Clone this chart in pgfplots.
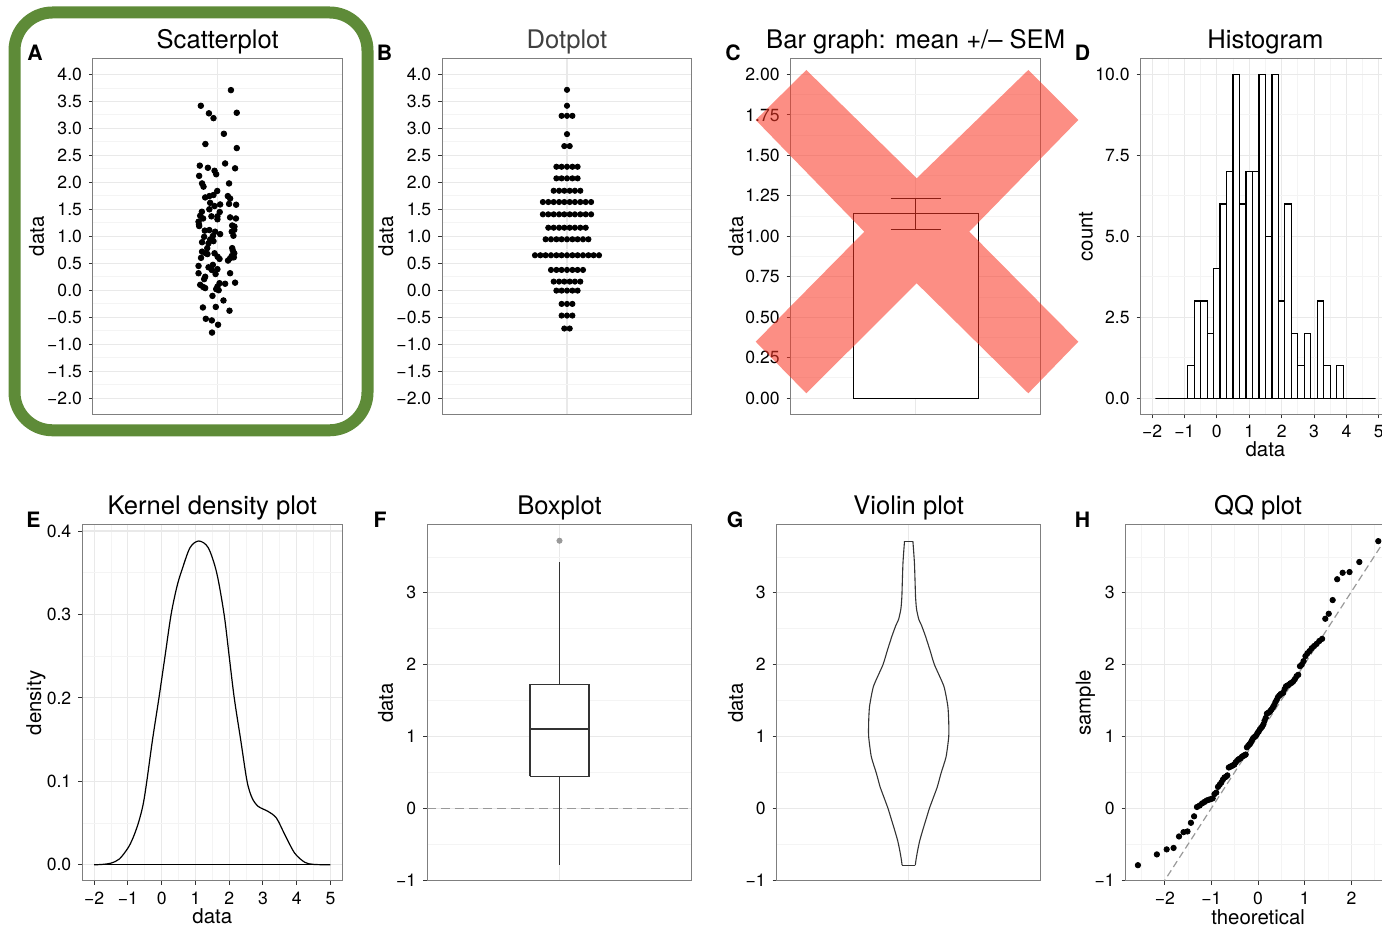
\documentclass[border=0pt]{standalone}
\usepackage{fontspec}
\setmainfont{TeX Gyre Heros}
\usepackage{pgfplots}
\pgfplotsset{compat=1.18}

\definecolor{gmaj}{RGB}{233,233,233}
\definecolor{gmin}{RGB}{244,244,244}
\definecolor{bordc}{RGB}{127,127,127}
\definecolor{tickc}{RGB}{51,51,51}
\definecolor{frameg}{RGB}{94,139,56}
\definecolor{xred}{RGB}{250,54,36}
\definecolor{dgray}{RGB}{153,153,153}
\definecolor{ttlgray}{RGB}{64,64,64}

\pgfplotsset{
  gg/.style={
    scale only axis,
    anchor=north west,
    axis line style={draw=bordc, line width=0.5pt},
    tick align=outside,
    tick pos=left,
    major tick length=2pt,
    minor tick length=0pt,
    tick style={tickc, line width=0.5pt},
    major grid style={gmaj, line width=0.55pt},
    minor grid style={gmin, line width=0.45pt},
    xmajorgrids, ymajorgrids, yminorgrids,
    tick label style={font=\fontsize{8.8}{10}\selectfont, black},
    label style={font=\fontsize{10.2}{12}\selectfont},
    title style={font=\fontsize{12.8}{14}\selectfont, at={(0.5,1)}, anchor=base, yshift=-1pt},
  },
  catx/.style={xmin=0.4, xmax=1.6, xtick={1}, xticklabel={\mbox{}}, xtick style={draw=none}},
}

\begin{document}
\begin{tikzpicture}
\path[use as bounding box] (0,0) rectangle (691pt,465.5pt);

% green frame around panel A
\draw[frameg, line width=6pt, rounded corners=19pt] (7.25pt,459.25pt) rectangle (183.75pt,250.35pt);

% ---------------- A: Scatterplot
\begin{axis}[gg, catx, at={(46.5pt,436.35pt)}, width=124.65pt, height=178pt,
  ymin=-2.3, ymax=4.3,
  ytick={-2,-1.5,-1,-0.5,0,0.5,1,1.5,2,2.5,3,3.5,4},
  yticklabels={−2.0,−1.5,−1.0,−0.5,0.0,0.5,1.0,1.5,2.0,2.5,3.0,3.5,4.0},
  minor ytick={-1.75,-1.25,-0.75,-0.25,0.25,0.75,1.25,1.75,2.25,2.75,3.25,3.75},
  title={Scatterplot}, ylabel={data},
  ylabel style={at={(axis description cs:-0.226,0.5)}, anchor=center}]
\addplot[only marks, mark=*, mark size=1.4pt, black] coordinates {
(1.064,3.71) (0.919,3.42) (0.958,3.28) (0.980,3.19) (1.092,3.29) (1.030,2.90) (0.941,2.71) (1.092,2.635)
(0.914,2.31) (0.953,2.27) (1.036,2.35) (1.084,2.26) (0.985,2.215) (0.993,2.15) (0.911,2.12) (0.925,1.98)
(0.932,1.92) (1.055,1.98) (0.940,1.72) (0.960,1.745) (0.980,1.765) (0.998,1.84) (1.049,1.745) (1.060,1.70)
(0.964,1.62) (0.985,1.56) (1.012,1.59) (1.055,1.60) (1.089,1.585) (0.924,1.455) (0.916,1.38) (0.970,1.37)
(0.999,1.37) (0.999,1.315) (1.088,1.33) (0.908,1.27) (0.911,1.19) (1.081,1.18) (0.938,1.105) (0.960,1.115)
(0.988,1.085) (1.012,1.04) (1.068,1.085) (1.076,1.01) (0.935,0.99) (0.964,0.94) (0.977,1.005) (0.925,0.89)
(0.956,0.87) (0.980,0.91) (0.925,0.715) (0.951,0.67) (0.985,0.685) (1.009,0.58) (1.073,0.735) (1.080,0.685)
(1.060,0.59) (1.068,0.635) (0.943,0.685) (0.908,0.45) (0.956,0.425) (0.977,0.47) (0.999,0.39) (0.972,0.375)
(0.908,0.315) (1.060,0.315) (0.935,0.205) (0.916,0.10) (0.940,0.04) (0.999,0.067) (1.009,0.13) (1.036,0.12)
(1.084,0.14) (0.993,0.02) (0.975,-0.105) (1.028,-0.19) (0.929,-0.32) (0.991,-0.31) (1.057,-0.38) (0.943,-0.53)
(0.972,-0.56) (1.002,-0.64) (0.973,-0.785)
(1.070,0.78) (1.078,0.61) (0.920,0.60) (1.000,0.62) (1.070,1.20) (0.910,1.22) (0.940,0.25) (0.930,0.06)
(1.005,0.00) (0.960,1.50) (1.010,1.45) (0.930,1.33) (1.080,1.12) (0.950,0.78) (1.050,0.55) (0.990,0.30) (1.060,1.35)
};
\end{axis}

% ---------------- B: Dotplot
\begin{axis}[gg, catx, at={(221.15pt,436.35pt)}, width=124.7pt, height=178pt,
  ymin=-2.3, ymax=4.3,
  ytick={-2,-1.5,-1,-0.5,0,0.5,1,1.5,2,2.5,3,3.5,4},
  yticklabels={−2.0,−1.5,−1.0,−0.5,0.0,0.5,1.0,1.5,2.0,2.5,3.0,3.5,4.0},
  minor ytick={-1.75,-1.25,-0.75,-0.25,0.25,0.75,1.25,1.75,2.25,2.75,3.25,3.75},
  title={Dotplot}, title style={text=ttlgray}, ylabel={data},
  ylabel style={at={(axis description cs:-0.226,0.5)}, anchor=center}]
\addplot[only marks, mark=*, mark size=1.32pt, black] coordinates {
(1,3.715)
(1,3.42)
(0.974,3.233) (1,3.233) (1.026,3.233)
(1,2.894)
(0.987,2.672) (1.013,2.672)
(0.949,2.289) (0.974,2.289) (1,2.289) (1.026,2.289) (1.051,2.289)
(0.949,2.074) (0.974,2.074) (1,2.074) (1.026,2.074) (1.051,2.074)
(0.936,1.844) (0.962,1.844) (0.987,1.844) (1.013,1.844) (1.038,1.844) (1.064,1.844)
(0.884,1.635) (0.910,1.635) (0.936,1.635) (0.962,1.635) (0.987,1.635) (1.013,1.635) (1.038,1.635) (1.064,1.635) (1.090,1.635) (1.116,1.635)
(0.884,1.407) (0.910,1.407) (0.936,1.407) (0.962,1.407) (0.987,1.407) (1.013,1.407) (1.038,1.407) (1.064,1.407) (1.090,1.407) (1.116,1.407)
(0.910,1.159) (0.936,1.159) (0.962,1.159) (0.987,1.159) (1.013,1.159) (1.038,1.159) (1.064,1.159) (1.090,1.159)
(0.897,0.944) (0.923,0.944) (0.949,0.944) (0.974,0.944) (1,0.944) (1.026,0.944) (1.051,0.944) (1.077,0.944) (1.103,0.944)
(0.846,0.648) (0.872,0.648) (0.897,0.648) (0.923,0.648) (0.949,0.648) (0.974,0.648) (1,0.648) (1.026,0.648) (1.051,0.648) (1.077,0.648) (1.103,0.648) (1.128,0.648) (1.154,0.648)
(0.923,0.376) (0.949,0.376) (0.974,0.376) (1,0.376) (1.026,0.376) (1.051,0.376) (1.077,0.376)
(0.936,0.16) (0.962,0.16) (0.987,0.16) (1.013,0.16) (1.038,0.16) (1.064,0.16)
(0.949,-0.007) (0.974,-0.007) (1,-0.007) (1.026,-0.007) (1.051,-0.007)
(0.974,-0.254) (1,-0.254) (1.026,-0.254)
(0.974,-0.47) (1,-0.47) (1.026,-0.47)
(0.987,-0.71) (1.013,-0.71)
};
\end{axis}

% ---------------- C: Bar graph
\begin{axis}[gg, catx, at={(395.35pt,436.35pt)}, width=125pt, height=178pt,
  ymin=-0.1, ymax=2.1,
  ytick={0,0.25,0.5,0.75,1,1.25,1.5,1.75,2},
  yticklabels={0.00,0.25,0.50,0.75,1.00,1.25,1.50,1.75,2.00},
  minor ytick={0.125,0.375,0.625,0.875,1.125,1.375,1.625,1.875},
  title={Bar graph: mean +/– SEM}, ylabel={data},
  ylabel style={at={(axis description cs:-0.219,0.5)}, anchor=center}]
\addplot[draw=black, fill=white, line width=0.55pt] coordinates {(0.7,0) (0.7,1.139) (1.3,1.139) (1.3,0) (0.7,0)};
\addplot[black, line width=0.55pt] coordinates {(1,1.043) (1,1.235)};
\addplot[black, line width=0.55pt] coordinates {(0.88,1.235) (1.12,1.235)};
\addplot[black, line width=0.55pt] coordinates {(0.88,1.043) (1.12,1.043)};
\end{axis}

% ---------------- D: Histogram
\begin{axis}[gg, at={(570.35pt,436.35pt)}, width=124.75pt, height=178pt,
  xmin=-2.35, xmax=5.35, ymin=-0.5, ymax=10.5,
  xtick={-2,-1,0,1,2,3,4,5}, xticklabels={−2,−1,0,1,2,3,4,5},
  minor xtick={-1.5,-0.5,0.5,1.5,2.5,3.5,4.5}, xminorgrids,
  ytick={0,2.5,5,7.5,10}, yticklabels={0.0,2.5,5.0,7.5,10.0},
  minor ytick={1.25,3.75,6.25,8.75},
  title={Histogram}, ylabel={count}, xlabel={data},
  ylabel style={at={(axis description cs:-0.219,0.5)}, anchor=center},
  xlabel style={at={(axis description cs:0.5,-0.0975)}, anchor=center}]
\addplot[ybar interval, draw=black, fill=white, line width=0.6pt] coordinates {
(-1.9,0) (-1.7,0) (-1.5,0) (-1.3,0) (-1.1,0) (-0.9,1) (-0.7,3) (-0.5,3) (-0.3,2) (-0.1,4)
(0.1,6) (0.3,7) (0.5,10) (0.7,6) (0.9,7) (1.1,7) (1.3,10) (1.5,5) (1.7,10) (1.9,3)
(2.1,6) (2.3,2) (2.5,1) (2.7,2) (2.9,0) (3.1,3) (3.3,1) (3.5,0) (3.7,1) (3.9,0)
(4.1,0) (4.3,0) (4.5,0) (4.7,0) (4.9,0)
};
\end{axis}

% ---------------- E: Kernel density
\begin{axis}[gg, at={(41.15pt,203pt)}, width=130pt, height=178pt,
  xmin=-2.35, xmax=5.35, ymin=-0.0194, ymax=0.4072,
  xtick={-2,-1,0,1,2,3,4,5}, xticklabels={−2,−1,0,1,2,3,4,5},
  minor xtick={-1.5,-0.5,0.5,1.5,2.5,3.5,4.5}, xminorgrids,
  ytick={0,0.1,0.2,0.3,0.4}, yticklabels={0.0,0.1,0.2,0.3,0.4},
  minor ytick={0.05,0.15,0.25,0.35},
  title={Kernel density plot}, ylabel={density}, xlabel={data},
  ylabel style={at={(axis description cs:-0.178,0.5)}, anchor=center},
  xlabel style={at={(axis description cs:0.5,-0.099)}, anchor=center}]
\addplot[black, line width=0.6pt, smooth] coordinates {
(-2.0,0.0) (-1.75,0.0005) (-1.5,0.002) (-1.25,0.007) (-1.0,0.020) (-0.85,0.032) (-0.69,0.050)
(-0.55,0.072) (-0.44,0.100) (-0.27,0.150) (-0.08,0.200) (0.10,0.250) (0.28,0.300) (0.45,0.333)
(0.59,0.352) (0.84,0.380) (1.10,0.388) (1.38,0.380) (1.63,0.350) (1.85,0.300) (2.0,0.250)
(2.15,0.200) (2.34,0.150) (2.53,0.100) (2.68,0.080) (2.86,0.070) (3.15,0.064) (3.40,0.056)
(3.65,0.036) (3.94,0.014) (4.24,0.003) (4.5,0.0005) (5.0,0.0)
};
\addplot[black, line width=0.6pt] coordinates {(-2,0) (5,0)};
\end{axis}

% ---------------- F: Boxplot
\begin{axis}[gg, catx, at={(213.65pt,203pt)}, width=132.2pt, height=178pt,
  ymin=-1.01, ymax=3.945,
  ytick={-1,0,1,2,3}, yticklabels={−1,0,1,2,3},
  minor ytick={-0.5,0.5,1.5,2.5,3.5},
  title={Boxplot}, ylabel={data},
  ylabel style={at={(axis description cs:-0.158,0.5)}, anchor=center}]
\addplot[dgray, line width=0.6pt, dash pattern=on 4.5pt off 2.5pt] coordinates {(0.4,0) (1.6,0)};
\addplot[tickc, line width=0.55pt] coordinates {(1,1.72) (1,3.427)};
\addplot[tickc, line width=0.55pt] coordinates {(1,0.447) (1,-0.79)};
\addplot[tickc, fill=white, line width=0.55pt] coordinates {(0.866,0.447) (0.866,1.72) (1.134,1.72) (1.134,0.447) (0.866,0.447)};
\addplot[tickc, line width=1.1pt] coordinates {(0.866,1.111) (1.134,1.111)};
\addplot[only marks, mark=*, mark size=1.3pt, dgray] coordinates {(1,3.726)};
\end{axis}

% ---------------- G: Violin plot
\begin{axis}[gg, catx, at={(388.35pt,203pt)}, width=132pt, height=178pt,
  ymin=-1.01, ymax=3.945,
  ytick={-1,0,1,2,3}, yticklabels={−1,0,1,2,3},
  minor ytick={-0.5,0.5,1.5,2.5,3.5},
  title={Violin plot}, ylabel={data},
  ylabel style={at={(axis description cs:-0.156,0.5)}, anchor=center}]
\addplot[tickc, line width=0.55pt, smooth, tension=0.35] coordinates {
(1.030,-0.79) (1.034,-0.70) (1.041,-0.58) (1.050,-0.45) (1.064,-0.30) (1.079,-0.15)
(1.094,0.0) (1.112,0.15) (1.130,0.30) (1.147,0.49) (1.170,0.72) (1.182,1.0) (1.182,1.2) (1.178,1.42)
(1.160,1.70) (1.117,2.0) (1.097,2.2) (1.076,2.4) (1.058,2.55) (1.046,2.63) (1.037,2.75) (1.034,2.82)
(1.031,2.95) (1.030,3.05) (1.028,3.25) (1.026,3.42) (1.022,3.60) (1.019,3.72)
};
\addplot[tickc, line width=0.55pt, smooth, tension=0.35] coordinates {
(0.970,-0.79) (0.966,-0.70) (0.959,-0.58) (0.950,-0.45) (0.936,-0.30) (0.921,-0.15)
(0.906,0.0) (0.888,0.15) (0.870,0.30) (0.853,0.49) (0.830,0.72) (0.818,1.0) (0.818,1.2) (0.822,1.42)
(0.840,1.70) (0.883,2.0) (0.903,2.2) (0.924,2.4) (0.942,2.55) (0.954,2.63) (0.963,2.75) (0.966,2.82)
(0.969,2.95) (0.970,3.05) (0.972,3.25) (0.974,3.42) (0.978,3.60) (0.981,3.72)
};
\addplot[tickc, line width=0.55pt] coordinates {(0.981,3.72) (1.019,3.72)};
\addplot[tickc, line width=0.55pt] coordinates {(0.970,-0.79) (1.030,-0.79)};
\end{axis}

% ---------------- H: QQ plot
\begin{axis}[gg, at={(562.85pt,203pt)}, width=132.4pt, height=178pt,
  xmin=-2.838, xmax=2.838, ymin=-1.01, ymax=3.945,
  xtick={-2,-1,0,1,2}, xticklabels={−2,−1,0,1,2},
  minor xtick={-2.5,-1.5,-0.5,0.5,1.5,2.5}, xminorgrids,
  ytick={-1,0,1,2,3}, yticklabels={−1,0,1,2,3},
  minor ytick={-0.5,0.5,1.5,2.5,3.5},
  title={QQ plot}, ylabel={sample}, xlabel={theoretical},
  ylabel style={at={(axis description cs:-0.152,0.5)}, anchor=center},
  xlabel style={at={(axis description cs:0.5,-0.101)}, anchor=center}]
\addplot[only marks, mark=*, mark size=1.35pt, black] coordinates {
(-2.576,-0.79) (-2.170,-0.64) (-1.960,-0.57) (-1.812,-0.55) (-1.695,-0.39) (-1.598,-0.33) (-1.514,-0.32)
(-1.440,-0.20) (-1.372,-0.11) (-1.311,0.02) (-1.254,0.04) (-1.200,0.07) (-1.150,0.09) (-1.103,0.11)
(-1.058,0.12) (-1.015,0.13) (-0.974,0.14) (-0.935,0.20) (-0.897,0.22) (-0.860,0.30) (-0.824,0.33)
(-0.789,0.36) (-0.755,0.40) (-0.722,0.43) (-0.690,0.44) (-0.659,0.46) (-0.628,0.57) (-0.598,0.58)
(-0.568,0.59) (-0.539,0.60) (-0.510,0.61) (-0.482,0.64) (-0.454,0.66) (-0.426,0.68) (-0.399,0.69)
(-0.372,0.70) (-0.345,0.72) (-0.319,0.73) (-0.292,0.74) (-0.266,0.75) (-0.240,0.85) (-0.215,0.87)
(-0.189,0.89) (-0.164,0.91) (-0.138,0.94) (-0.113,0.97) (-0.088,0.99) (-0.063,1.00) (-0.038,1.02)
(-0.013,1.05) (0.013,1.07) (0.038,1.10) (0.063,1.12) (0.088,1.14) (0.113,1.17) (0.138,1.22)
(0.164,1.26) (0.189,1.32) (0.215,1.33) (0.240,1.34) (0.266,1.36) (0.292,1.38) (0.319,1.41)
(0.345,1.44) (0.372,1.48) (0.399,1.51) (0.426,1.55) (0.454,1.57) (0.482,1.59) (0.510,1.60)
(0.539,1.61) (0.568,1.66) (0.598,1.70) (0.628,1.71) (0.659,1.72) (0.690,1.74) (0.722,1.75)
(0.755,1.77) (0.789,1.80) (0.824,1.84) (0.860,1.86) (0.897,1.98) (0.935,2.00) (0.974,2.05)
(1.015,2.12) (1.058,2.16) (1.103,2.19) (1.150,2.23) (1.200,2.26) (1.254,2.29) (1.311,2.33)
(1.372,2.36) (1.440,2.64) (1.514,2.71) (1.598,2.90) (1.695,3.19) (1.812,3.28) (1.960,3.29)
(2.170,3.43) (2.576,3.72)
};
\addplot[dgray, line width=0.6pt, dash pattern=on 3.5pt off 2pt] coordinates {(-2.84,-1.843) (2.84,3.860)};
\end{axis}

% red cross over panel C
\fill[xred, fill opacity=0.56] (403.15pt,430.5pt) -- (458.35pt,376.35pt) -- (514.15pt,430.5pt) -- (539.15pt,405.5pt)
  -- (484.65pt,349.65pt) -- (539.15pt,294.65pt) -- (514.15pt,268.85pt) -- (458.35pt,323.85pt)
  -- (403.15pt,268.85pt) -- (377.85pt,294.65pt) -- (432.15pt,349.65pt) -- (377.85pt,405.5pt) -- cycle;

% panel letters
\begin{scope}[font=\fontsize{10.6}{12}\selectfont\bfseries]
\node at (17.5pt,439.25pt) {A};
\node at (192.25pt,439.25pt) {B};
\node at (366.5pt,439.25pt) {C};
\node at (541.25pt,439.25pt) {D};
\node at (16.75pt,205.75pt) {E};
\node at (190pt,205.75pt) {F};
\node at (367.5pt,205.75pt) {G};
\node at (541.25pt,205.75pt) {H};
\end{scope}
\end{tikzpicture}
\end{document}
